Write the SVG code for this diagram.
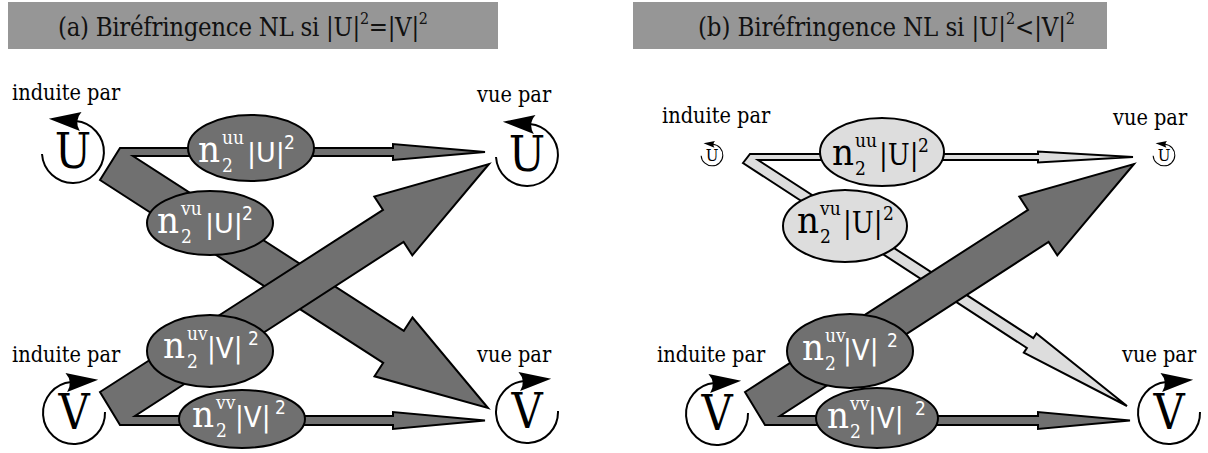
<svg xmlns="http://www.w3.org/2000/svg" width="1208" height="453" viewBox="0 0 1208 453">
<style>
.bar{fill:#969696}
.title{font-family:"DejaVu Serif Condensed","DejaVu Serif","Liberation Serif",serif;font-stretch:condensed;font-size:25.5px;fill:#111}
.lab{font-family:"DejaVu Serif Condensed","DejaVu Serif","Liberation Serif",serif;font-stretch:condensed;font-size:21.5px;fill:#000}
.big{font-family:"DejaVu Serif Condensed","DejaVu Serif","Liberation Serif",serif;font-stretch:condensed;font-size:48px;text-anchor:middle;fill:#000}
.arc{fill:none;stroke:#000;stroke-width:2;marker-end:url(#ah)}
.sm .arc{stroke-width:3}
.dark{fill:#707070;stroke:#000;stroke-width:2;stroke-linejoin:miter}
.light{fill:#dddddd;stroke:#000;stroke-width:2;stroke-linejoin:miter}
.w{fill:#fff}
.k{fill:#000}
.n{font-family:"DejaVu Serif Condensed","DejaVu Serif","Liberation Serif",serif;font-stretch:condensed;font-size:38px}
.s{font-family:"DejaVu Serif Condensed","DejaVu Serif","Liberation Serif",serif;font-stretch:condensed;font-size:19px}
.a{font-family:"DejaVu Sans Condensed","DejaVu Sans","Liberation Sans",sans-serif;font-stretch:condensed;font-size:29px}
.au{font-family:"DejaVu Sans","Liberation Sans",sans-serif;font-size:27px}
.as{font-family:"DejaVu Sans Condensed","DejaVu Sans","Liberation Sans",sans-serif;font-stretch:condensed;font-size:19px}
.af{font-family:"DejaVu Serif Condensed","DejaVu Serif","Liberation Serif",serif;font-stretch:condensed;font-size:29px}
.afs{font-family:"DejaVu Serif Condensed","DejaVu Serif","Liberation Serif",serif;font-stretch:condensed;font-size:19px}
</style>
<defs>
<marker id="ah" viewBox="-2 -12 36 24" refX="5" refY="0" markerWidth="36" markerHeight="24" markerUnits="userSpaceOnUse" orient="auto" overflow="visible">
<path d="M 32,0 L 0,-9.5 Q 7,0 0,9.5 Z" fill="#000"/>
</marker>
</defs>
<rect width="1208" height="453" fill="#fff"/>

<g id="title-a">
<rect class="bar" x="8" y="2" width="490" height="47"/>
<text class="title" x="58" y="36" textLength="370" lengthAdjust="spacing">(a) Biréfringence NL si |U|<tspan dy="-12" font-size="16">2</tspan><tspan dy="12">=|V|</tspan><tspan dy="-12" font-size="16">2</tspan></text>
</g>
<g id="title-b">
<rect class="bar" x="633" y="2" width="474" height="47"/>
<text class="title" x="698" y="36" textLength="377" lengthAdjust="spacing">(b) Biréfringence NL si |U|<tspan dy="-12" font-size="16">2</tspan><tspan dy="12">&lt;|V|</tspan><tspan dy="-12" font-size="16">2</tspan></text>
</g>

<g id="connectors">
<polygon class="dark" points="100,180 120,148 393,148 393,144 485,152 393,160 393,156 133,156 403.8,330.9 412.5,317.5 488,408 374.5,376.3 383.2,362.9"/>
<polygon class="dark" points="100,392 383,209.9 374.3,196.5 489,164 412.3,255.3 403.6,241.9 135,416 393,416 393,412 485,420.5 393,429 393,425 120,425"/>
<polygon class="light" points="743,163 750,154 1038,154 1038,151.5 1133,157 1038,162.5 1038,160 758,160 1033.3,338.2 1036.4,333.5 1127,406 1023.8,352.7 1026.9,348"/>
<polygon class="dark" points="745,392 1028,209.9 1019.3,196.5 1134,164 1057.3,255.3 1048.6,241.9 780,416 1038,416 1038,412 1130,420.5 1038,429 1038,425 765,425"/>
</g>

<g id="a-uu">
<ellipse class="dark" cx="251" cy="148" rx="63" ry="33"/>
<text class="w"><tspan class="n" x="198" y="162">n</tspan><tspan class="s" x="222" y="144">uu</tspan><tspan class="s" x="222" y="172">2</tspan><tspan class="au" x="247" y="162">|U|</tspan><tspan class="as" x="284" y="149">2</tspan></text>
</g>
<g id="a-vu">
<ellipse class="dark" cx="210" cy="223" rx="63" ry="32"/>
<text class="w"><tspan class="n" x="157" y="233">n</tspan><tspan class="s" x="181" y="215">vu</tspan><tspan class="s" x="181" y="243">2</tspan><tspan class="au" x="205" y="233">|U|</tspan><tspan class="as" x="242" y="220">2</tspan></text>
</g>
<g id="a-uv">
<ellipse class="dark" cx="210" cy="351" rx="63" ry="36"/>
<text class="w"><tspan class="n" x="163" y="358">n</tspan><tspan class="s" x="187" y="340">uv</tspan><tspan class="s" x="187" y="368">2</tspan><tspan class="a" x="207" y="358">|V|</tspan><tspan class="as" x="248" y="345">2</tspan></text>
</g>
<g id="a-vv">
<ellipse class="dark" cx="242" cy="419" rx="63" ry="29"/>
<text class="w"><tspan class="n" x="192" y="427">n</tspan><tspan class="s" x="216" y="409">vv</tspan><tspan class="s" x="216" y="437">2</tspan><tspan class="a" x="235" y="427">|V|</tspan><tspan class="as" x="275" y="414">2</tspan></text>
</g>

<g id="b-uu">
<ellipse class="light" cx="882" cy="152" rx="62" ry="34"/>
<text class="k"><tspan class="n" x="832" y="165">n</tspan><tspan class="s" x="855" y="147">uu</tspan><tspan class="s" x="855" y="175">2</tspan><tspan class="af" x="879" y="165">|U|</tspan><tspan class="afs" x="918" y="152">2</tspan></text>
</g>
<g id="b-vu">
<ellipse class="light" cx="845" cy="226" rx="62" ry="36"/>
<text class="k"><tspan class="n" x="797" y="233">n</tspan><tspan class="s" x="820" y="215">vu</tspan><tspan class="s" x="820" y="243">2</tspan><tspan class="af" x="843" y="233">|U|</tspan><tspan class="afs" x="883" y="220">2</tspan></text>
</g>
<g id="b-uv">
<ellipse class="dark" cx="850" cy="351" rx="63" ry="37"/>
<text class="w"><tspan class="n" x="802" y="360">n</tspan><tspan class="s" x="825" y="342">uv</tspan><tspan class="s" x="825" y="370">2</tspan><tspan class="a" x="843" y="360">|V|</tspan><tspan class="as" x="887" y="347">2</tspan></text>
</g>
<g id="b-vv">
<ellipse class="dark" cx="877" cy="418" rx="61" ry="30"/>
<text class="w"><tspan class="n" x="827" y="428">n</tspan><tspan class="s" x="850" y="410">vv</tspan><tspan class="s" x="850" y="438">2</tspan><tspan class="a" x="868" y="428">|V|</tspan><tspan class="as" x="915" y="415">2</tspan></text>
</g>

<g id="a-U-induite">
<text class="lab" x="12" y="100">induite par</text>
<g transform="translate(73,152)"><path class="arc" d="M -31,2 A 31,31 0 1 0 2.7,-30.9"/><text class="big" x="0" y="16">U</text></g>
</g>
<g id="a-U-vue">
<text class="lab" x="477" y="102">vue par</text>
<g transform="translate(527,155)"><path class="arc" d="M -31,2 A 31,31 0 1 0 2.7,-30.9"/><text class="big" x="0" y="16">U</text></g>
</g>
<g id="a-V-induite">
<text class="lab" x="12" y="362">induite par</text>
<g transform="translate(74,413)"><path class="arc" d="M 31,-1 A 31,31 0 1 1 -2.7,-30.9"/><text class="big" x="0" y="16">V</text></g>
</g>
<g id="a-V-vue">
<text class="lab" x="477" y="362">vue par</text>
<g transform="translate(527,412)"><path class="arc" d="M 31,-1 A 31,31 0 1 1 -2.7,-30.9"/><text class="big" x="0" y="16">V</text></g>
</g>

<g id="b-U-induite">
<text class="lab" x="662" y="123">induite par</text>
<g class="sm" transform="translate(712,155) scale(0.35)"><path class="arc" d="M -31,2 A 31,31 0 1 0 2.7,-30.9"/><text class="big" x="0" y="16">U</text></g>
</g>
<g id="b-U-vue">
<text class="lab" x="1113" y="125">vue par</text>
<g class="sm" transform="translate(1164,155) scale(0.35)"><path class="arc" d="M -31,2 A 31,31 0 1 0 2.7,-30.9"/><text class="big" x="0" y="16">U</text></g>
</g>
<g id="b-V-induite">
<text class="lab" x="657" y="362">induite par</text>
<g transform="translate(717,414)"><path class="arc" d="M 31,-1 A 31,31 0 1 1 -2.7,-30.9"/><text class="big" x="0" y="16">V</text></g>
</g>
<g id="b-V-vue">
<text class="lab" x="1122" y="362">vue par</text>
<g transform="translate(1169,413)"><path class="arc" d="M 31,-1 A 31,31 0 1 1 -2.7,-30.9"/><text class="big" x="0" y="16">V</text></g>
</g>
</svg>
